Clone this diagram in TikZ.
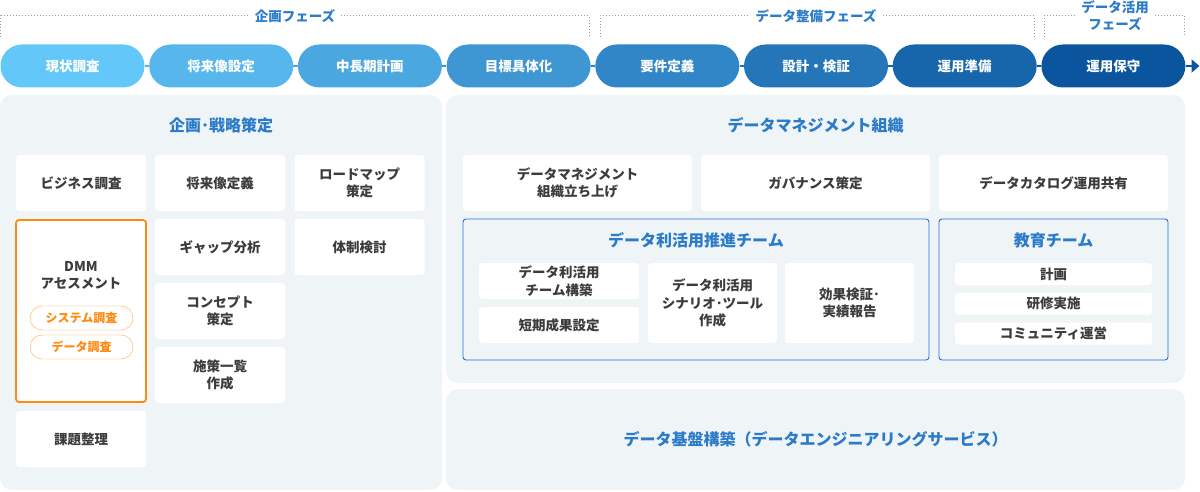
\documentclass[tikz,border=0pt]{standalone}
\usepackage{fontspec}
\setmainfont{Noto Sans CJK JP}
\usepackage{tikz}
\usetikzlibrary{arrows.meta,positioning}

\definecolor{panelbg}{HTML}{EFF4F7}
\definecolor{titleblue}{HTML}{2B7BC8}
\definecolor{textgray}{HTML}{3C3C3C}
\definecolor{dmmorange}{HTML}{FF8A0F}
\definecolor{pilllight}{HTML}{63C7FA}
\definecolor{pilldark}{HTML}{0A559E}
\definecolor{phasegray}{HTML}{9A9A9A}

\begin{document}
\begin{tikzpicture}[x=1pt,y=-1pt,
  panel/.style={fill=panelbg, rounded corners=12},
  cell/.style={fill=white, rounded corners=3, align=center, text=textgray,
    font=\fontsize{13.5}{17.5}\selectfont\bfseries, inner sep=0,
    minimum width=130, minimum height=56},
  paneltitle/.style={text=titleblue, font=\fontsize{16}{20}\selectfont\bfseries},
  phase/.style={text=titleblue, font=\fontsize{13.5}{17}\selectfont\bfseries,
    align=center, inner sep=6},
  phaseline/.style={draw=phasegray, line width=1, dash pattern=on 1 off 2},
  pill/.style={rounded corners=21.5, minimum width=144, minimum height=43,
    text=white, font=\fontsize{13.5}{16}\selectfont\bfseries, inner sep=0},
  tag/.style={draw=dmmorange!75, fill=white, rounded corners=12, minimum width=103,
    minimum height=24, text=dmmorange, font=\fontsize{12}{14}\selectfont\bfseries, inner sep=0},
  team/.style={draw=titleblue!90!blue, line width=0.9, rounded corners=3},
]
\useasboundingbox (0,0) rectangle (1200,492);

\node[phase] (ph1) at (295,16) {企画フェーズ};
\node[phase] (ph2) at (816,16) {データ整備フェーズ};
\node[phase] (ph3) at (1115,15.5) {データ活用\\フェーズ};
\draw[phaseline] (0.5,37) |- (ph1.west);
\draw[phaseline] (ph1.east) -| (589.5,37);
\draw[phaseline] (600,37) |- (ph2.west);
\draw[phaseline] (ph2.east) -| (1034,37);
\draw[phaseline] (1044,37) |- (ph3.west);
\draw[phaseline] (ph3.east) -| (1184,37);

\foreach \txt [count=\i from 0] in {現状調査,将来像設定,中長期計画,目標具体化,要件定義,設計・検証,運用準備,運用保守}{
  \pgfmathtruncatemacro\pct{\i*100/7}
  \node[pill, fill=pilldark!\pct!pilllight] (p\i) at (72.5+148.7*\i,66) {\txt};
}
\foreach \a/\b in {0/1,1/2,2/3,3/4,4/5,5/6,6/7}{
  \pgfmathtruncatemacro\pct{\b*100/7}
  \draw[line width=2.5, draw=pilldark!\pct!pilllight] (p\a.east) -- (p\b.west);
}
\coordinate (tip) at (1199.5,66);
\draw[line width=2.5, pilldark, -{Triangle[length=8,width=13]}] (p7.east) -- (tip);

\fill[panel] (0,95) rectangle (442,490);
\node[paneltitle] (plan) at (221,125) {企画･戦略策定};
\node[cell] (biz) at (81,183) {ビジネス調査};
\node[cell] (vision) at (220,183) {将来像定義};
\node[cell] (road) at (359.5,183) {ロードマップ\\策定};
\node[cell, draw=dmmorange, line width=1.8, minimum height=182] (dmm) at (81,311) {};
\node[text=textgray, font=\fontsize{13.5}{17.5}\selectfont\bfseries, align=center] (dmmtxt) at (81,275.5) {DMM\\アセスメント};
\node[tag] (sys) at (81.5,318) {システム調査};
\node[tag] (dat) at (81.5,347) {データ調査};
\node[cell] (gap) at (220,247) {ギャップ分析};
\node[cell] (org) at (359.5,247) {体制検討};
\node[cell] (concept) at (220,311) {コンセプト\\策定};
\node[cell] (measure) at (220,375) {施策一覧\\作成};
\node[cell] (issue) at (81,439) {課題整理};

\fill[panel] (446,95) rectangle (1185,383);
\node[paneltitle] (dmorg) at (815.5,125) {データマネジメント組織};
\node[cell, minimum width=229] (launch) at (577.5,183) {データマネジメント\\組織立ち上げ};
\node[cell, minimum width=229] (gov) at (815.5,183) {ガバナンス策定};
\node[cell, minimum width=229] (catalog) at (1053.5,183) {データカタログ運用共有};

\node[team, minimum width=466, minimum height=141] (useteam) at (696,289.5) {};
\node[paneltitle] (usetitle) at (696,240) {データ利活用推進チーム};
\node[cell, minimum width=160, minimum height=36] (build) at (559,281) {データ利活用\\チーム構築};
\node[cell, minimum width=160, minimum height=36] (short) at (559,325) {短期成果設定};
\node[cell, minimum width=129, minimum height=80] (scen) at (712.5,303) {データ利活用\\シナリオ･ツール\\作成};
\node[cell, minimum width=129, minimum height=80] (effect) at (849.5,303) {効果検証･\\実績報告};

\node[team, minimum width=229, minimum height=141] (eduteam) at (1053.5,289.5) {};
\node[paneltitle] (edutitle) at (1053.5,240) {教育チーム};
\node[cell, minimum width=197, minimum height=22] (plan2) at (1053.5,274) {計画};
\node[cell, minimum width=197, minimum height=22] (train) at (1053.5,303.5) {研修実施};
\node[cell, minimum width=197, minimum height=22] (comm) at (1053.5,333.5) {コミュニティ運営};

\fill[panel] (446,389) rectangle (1185,490);
\node[paneltitle] (infra) at (815.5,439) {データ基盤構築（データエンジニアリングサービス）};
\end{tikzpicture}
\end{document}
